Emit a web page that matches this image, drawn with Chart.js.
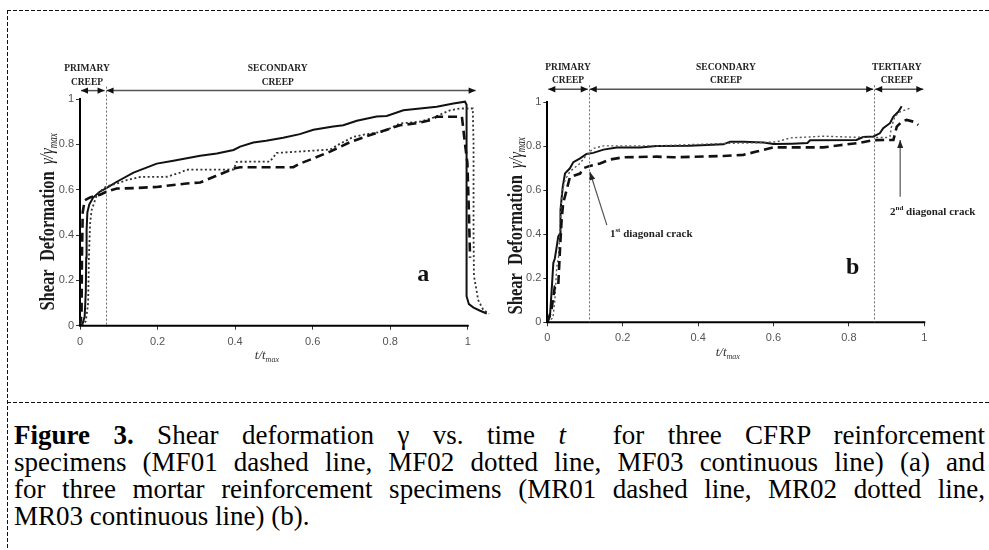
<!DOCTYPE html>
<html>
<head>
<meta charset="utf-8">
<script src="https://cdn.jsdelivr.net/npm/chart.js@4.4.0/dist/chart.umd.min.js"></script>
<style>
html,body{margin:0;padding:0;background:#fff;}
body{width:989px;height:550px;position:relative;overflow:hidden;font-family:"Liberation Serif","Times New Roman",serif;}
.abs{position:absolute;}
#frameTop{left:7px;top:10px;width:982px;height:1px;background:repeating-linear-gradient(90deg,#111 0 4px,transparent 4px 6px);}
#frameLeft{left:7px;top:10px;width:1px;height:540px;background:repeating-linear-gradient(180deg,#111 0 4px,transparent 4px 6px);}
#sep{left:7px;top:402px;width:982px;height:1px;background:repeating-linear-gradient(90deg,#111 0 4px,transparent 4px 6px);}
#cvA{left:0;top:0;}
#cvB{left:494px;top:0;}
#caption{left:14px;top:422px;width:971px;font-size:27px;line-height:27px;color:#000;}
#caption .j{text-align:justify;text-align-last:justify;}
#caption .l{text-align:left;}
</style>
</head>
<body>
<div id="frameTop" class="abs"></div>
<div id="frameLeft" class="abs"></div>
<div id="sep" class="abs"></div>
<canvas id="cvA" class="abs" width="494" height="400" style="width:494px;height:400px"></canvas>
<canvas id="cvB" class="abs" width="495" height="400" style="width:495px;height:400px"></canvas>
<div id="caption" class="abs">
  <div class="j"><b>Figure 3.</b> Shear deformation γ vs. time <i>t</i> &nbsp;for three CFRP reinforcement</div>
  <div class="j">specimens (MF01 dashed line, MF02 dotted line, MF03 continuous line) (a) and</div>
  <div class="j">for three mortar reinforcement specimens (MR01 dashed line, MR02 dotted line,</div>
  <div class="l">MR03 continuous line) (b).</div>
</div>
<script>
// ---------- tick values / labels ----------
const xTickValues = [0, 0.2, 0.4, 0.6, 0.8, 1];
const xTickLabels = ['0', '0.2', '0.4', '0.6', '0.8', '1'];
const yTickValues = [0, 0.2, 0.4, 0.6, 0.8, 1];
const yTickLabels = ['0', '0.2', '0.4', '0.6', '0.8', '1'];

// ---------- (a) CFRP specimens : [t/tmax, γ/γmax] ----------
const MF01 = [[0,0],[0.004,0.05],[0.005,0.3],[0.007,0.5],[0.012,0.553],[0.026,0.566],[0.052,0.578],[0.069,0.592],[0.095,0.605],[0.138,0.607],[0.198,0.612],[0.275,0.627],[0.31,0.632],[0.35,0.66],[0.396,0.693],[0.413,0.699],[0.55,0.699],[0.567,0.715],[0.602,0.738],[0.645,0.768],[0.697,0.81],[0.739,0.836],[0.774,0.855],[0.825,0.884],[0.868,0.893],[0.903,0.906],[0.92,0.922],[0.985,0.922],[0.993,0.8],[0.999,0.72],[1.003,0.5],[1.006,0.3]];
const MF02 = [[0.004,0],[0.015,0.02],[0.021,0.1],[0.023,0.3],[0.026,0.45],[0.03,0.51],[0.043,0.575],[0.06,0.605],[0.069,0.615],[0.095,0.627],[0.12,0.642],[0.155,0.656],[0.224,0.657],[0.258,0.675],[0.275,0.688],[0.396,0.689],[0.404,0.723],[0.49,0.724],[0.507,0.762],[0.645,0.777],[0.671,0.803],[0.705,0.833],[0.739,0.845],[0.782,0.856],[0.825,0.892],[0.877,0.9],[0.911,0.918],[0.954,0.95],[0.98,0.958],[1.013,0.958],[1.015,0.8],[1.015,0.4],[1.016,0.22],[1.027,0.113],[1.04,0.07],[1.055,0.053]];
const MF03 = [[0,0],[0.006,0.005],[0.012,0.04],[0.015,0.15],[0.016,0.3],[0.017,0.42],[0.019,0.5],[0.024,0.535],[0.034,0.565],[0.05,0.59],[0.069,0.608],[0.095,0.635],[0.138,0.675],[0.198,0.715],[0.241,0.728],[0.31,0.75],[0.353,0.76],[0.396,0.775],[0.413,0.79],[0.447,0.808],[0.48,0.816],[0.524,0.829],[0.567,0.845],[0.602,0.864],[0.653,0.879],[0.679,0.884],[0.714,0.904],[0.765,0.923],[0.791,0.925],[0.834,0.95],[0.877,0.958],[0.92,0.966],[0.963,0.98],[0.993,0.988],[0.997,0.975],[0.997,0.5],[0.997,0.13],[1.003,0.095],[1.015,0.08],[1.032,0.066],[1.049,0.054]];

// ---------- (b) mortar specimens : [t/tmax, γ/γmax] ----------
const MR01 = [[0,0],[0.011,0.056],[0.02,0.162],[0.029,0.165],[0.034,0.344],[0.038,0.465],[0.042,0.54],[0.051,0.6],[0.06,0.66],[0.087,0.676],[0.095,0.7],[0.113,0.711],[0.14,0.722],[0.166,0.74],[0.202,0.75],[0.29,0.753],[0.334,0.75],[0.467,0.756],[0.52,0.761],[0.555,0.776],[0.6,0.795],[0.732,0.795],[0.776,0.805],[0.83,0.816],[0.865,0.828],[0.918,0.829],[0.927,0.889],[0.94,0.912],[0.953,0.92],[0.971,0.912],[0.984,0.897]];
const MR02 = [[0,0],[0.015,0.02],[0.02,0.1],[0.025,0.25],[0.03,0.3],[0.034,0.435],[0.038,0.586],[0.047,0.647],[0.06,0.685],[0.087,0.723],[0.104,0.76],[0.122,0.79],[0.149,0.802],[0.29,0.802],[0.467,0.813],[0.555,0.816],[0.608,0.82],[0.644,0.838],[0.732,0.846],[0.82,0.841],[0.9,0.84],[0.909,0.845],[0.913,0.889],[0.922,0.935],[0.936,0.957],[0.962,0.973]];
const MR03 = [[0,0],[0.007,0.026],[0.011,0.13],[0.016,0.27],[0.02,0.29],[0.025,0.344],[0.029,0.39],[0.034,0.405],[0.035,0.51],[0.041,0.617],[0.047,0.677],[0.06,0.7],[0.069,0.728],[0.087,0.745],[0.104,0.765],[0.122,0.77],[0.149,0.785],[0.184,0.795],[0.246,0.795],[0.29,0.801],[0.378,0.802],[0.467,0.809],[0.485,0.821],[0.52,0.821],[0.573,0.817],[0.6,0.81],[0.65,0.812],[0.69,0.815],[0.697,0.827],[0.82,0.829],[0.838,0.842],[0.865,0.845],[0.882,0.859],[0.891,0.882],[0.909,0.905],[0.918,0.935],[0.931,0.957],[0.94,0.982]];

// ---------- creep phases ----------
const phasesA = [0, 0.066, 1.023];
const phaseLabelsA = [['PRIMARY','CREEP'], ['SECONDARY','CREEP']];
const phaseLabelXA = [0.018, 0.51];
const phasesB = [0, 0.11, 0.867, 1.0];
const phaseLabelsB = [['PRIMARY','CREEP'], ['SECONDARY','CREEP'], ['TERTIARY','CREEP']];
const phaseLabelXB = [0.055, 0.474, 0.927];

const SERIF = '"Liberation Serif","Times New Roman",serif';

function head(ctx, tx, ty, fx, fy, len, half) {
  const a = Math.atan2(ty - fy, tx - fx);
  const c = Math.cos(a), s = Math.sin(a);
  ctx.beginPath();
  ctx.moveTo(tx, ty);
  ctx.lineTo(tx - len*c + half*s, ty - len*s - half*c);
  ctx.lineTo(tx - len*c - half*s, ty - len*s + half*c);
  ctx.closePath();
  ctx.fill();
}

function supText(ctx, x, y, base, sup, rest, size) {
  ctx.textAlign = 'left'; ctx.textBaseline = 'alphabetic';
  ctx.font = 'bold ' + size + 'px ' + SERIF;
  ctx.fillText(base, x, y); x += ctx.measureText(base).width;
  ctx.font = 'bold ' + Math.round(size*0.62) + 'px ' + SERIF;
  ctx.fillText(sup, x, y - size*0.38); x += ctx.measureText(sup).width;
  ctx.font = 'bold ' + size + 'px ' + SERIF;
  ctx.fillText(rest, x, y);
}

const decorPlugin = {
  id: 'decor',
  afterDraw(chart, args, o) {
    const ctx = chart.ctx, a = chart.chartArea, xs = chart.scales.x, ys = chart.scales.y;
    ctx.save();
    // x axis line (0..1)
    ctx.strokeStyle = '#000'; ctx.lineWidth = 2;
    ctx.beginPath(); ctx.moveTo(a.left - 1, a.bottom); ctx.lineTo(xs.getPixelForValue(1) + 1, a.bottom); ctx.stroke();
    const ay = ys.getPixelForValue(o.arrowY);
    // phase dividers
    ctx.strokeStyle = '#6a6a6a'; ctx.lineWidth = 1; ctx.setLineDash([2, 2]);
    o.phases.slice(1, -1).forEach(v => {
      const px = Math.round(xs.getPixelForValue(v)) + 0.5;
      ctx.beginPath(); ctx.moveTo(px, ay - 4); ctx.lineTo(px, a.bottom); ctx.stroke();
    });
    ctx.setLineDash([]);
    // phase arrows
    ctx.strokeStyle = '#555'; ctx.fillStyle = '#111'; ctx.lineWidth = 1.5;
    for (let i = 0; i < o.phases.length - 1; i++) {
      const p0 = xs.getPixelForValue(o.phases[i]) + 1, p1 = xs.getPixelForValue(o.phases[i+1]) - 1;
      ctx.beginPath(); ctx.moveTo(p0, ay); ctx.lineTo(p1, ay); ctx.stroke();
      head(ctx, p0, ay, p0 + 10, ay, 7, 3.2);
      head(ctx, p1, ay, p1 - 10, ay, 7, 3.2);
    }
    // phase labels
    ctx.fillStyle = '#222'; ctx.textAlign = 'center'; ctx.textBaseline = 'middle';
    ctx.font = 'bold 9.5px ' + SERIF;
    o.labels.forEach((lb, i) => {
      const px = xs.getPixelForValue(o.labelX[i]);
      ctx.fillText(lb[0], px, ay - 22);
      ctx.fillText(lb[1], px, ay - 8.5);
    });
    // y title
    ctx.save();
    ctx.translate(a.left + o.yTitle.dx, (a.top + a.bottom) / 2 + o.yTitle.dy);
    ctx.rotate(-Math.PI / 2);
    ctx.scale(1, 1.3);
    ctx.fillStyle = '#1a1a1a'; ctx.textAlign = 'left'; ctx.textBaseline = 'middle';
    const f1 = 'bold 16.5px ' + SERIF, f2 = 'italic 15px ' + SERIF, f3 = 'italic 9px ' + SERIF;
    ctx.font = f1; const w1 = ctx.measureText('Shear  Deformation').width;
    ctx.font = f2; const w2 = ctx.measureText('γ/γ').width;
    ctx.font = f3; const w3 = ctx.measureText('max').width;
    const gap = 7; let cx = -(w1 + gap + w2 + w3) / 2;
    ctx.font = f1; ctx.fillText('Shear  Deformation', cx, 0); cx += w1 + gap;
    ctx.font = f2; ctx.fillText('γ/γ', cx, 0); cx += w2;
    ctx.font = f3; ctx.fillText('max', cx, 4);
    ctx.restore();
    // x title
    ctx.fillStyle = '#333'; ctx.textAlign = 'left'; ctx.textBaseline = 'middle';
    const g1 = 'italic 13px ' + SERIF, g2 = 'italic 8px ' + SERIF;
    ctx.font = g1; const v1 = ctx.measureText('t/t').width;
    ctx.font = g2; const v2 = ctx.measureText('max').width;
    let tx = xs.getPixelForValue(0.5) + o.xTitle.dx - (v1 + v2) / 2, ty = a.bottom + o.xTitle.dy;
    ctx.font = g1; ctx.fillText('t/t', tx, ty);
    ctx.font = g2; ctx.fillText('max', tx + v1, ty + 4);
    // panel letter
    ctx.fillStyle = '#111'; ctx.textAlign = 'center'; ctx.textBaseline = 'middle';
    ctx.font = 'bold 24px ' + SERIF;
    ctx.fillText(o.letter.text, xs.getPixelForValue(o.letter.x), ys.getPixelForValue(o.letter.y));
    // crack annotations
    (o.cracks || []).forEach(c => {
      const fx = xs.getPixelForValue(c.from[0]), fy = ys.getPixelForValue(c.from[1]);
      const tx2 = xs.getPixelForValue(c.to[0]), ty2 = ys.getPixelForValue(c.to[1]);
      ctx.strokeStyle = '#555'; ctx.fillStyle = '#222'; ctx.lineWidth = 1.2;
      ctx.beginPath(); ctx.moveTo(fx, fy); ctx.lineTo(tx2, ty2); ctx.stroke();
      head(ctx, tx2, ty2, fx, fy, 8, 3);
      ctx.fillStyle = '#222';
      supText(ctx, xs.getPixelForValue(c.text[0]), ys.getPixelForValue(c.text[1]), c.base, c.sup, c.rest, 11);
    });
    ctx.restore();
  }
};

function series(arr, style) {
  return Object.assign({
    data: arr.map(([x, y]) => ({x, y})),
    pointRadius: 0, tension: 0, fill: false, clip: false
  }, style);
}
const dashedStyle = {borderColor: '#111', borderWidth: 2.6, borderDash: [9, 5]};
const dottedStyle = {borderColor: '#333', borderWidth: 1.8, borderDash: [2, 2.5]};
const solidStyle  = {borderColor: '#111', borderWidth: 2};

function makeChart(id, sets, cfg) {
  return new Chart(document.getElementById(id), {
    type: 'line',
    data: {datasets: sets},
    options: {
      responsive: false, animation: false, devicePixelRatio: 1,
      layout: {padding: cfg.padding},
      plugins: {legend: {display: false}, tooltip: {enabled: false}, decor: cfg.decor},
      scales: {
        x: {
          type: 'linear', min: 0, max: cfg.xMax,
          afterFit(s) { s.height = 40; },
          afterBuildTicks(s) { s.ticks = xTickValues.map(v => ({value: v})); },
          ticks: {callback: (v, i) => xTickLabels[i], color: '#555', font: {family: 'Liberation Sans', size: 11},
                  padding: cfg.xPad, maxRotation: 0, autoSkip: false},
          grid: {drawOnChartArea: false, drawTicks: true, tickLength: 4, color: '#333'},
          border: {display: false}
        },
        y: {
          type: 'linear', min: 0, max: 1,
          afterFit(s) { s.width = cfg.yWidth; },
          afterBuildTicks(s) { s.ticks = yTickValues.map(v => ({value: v})); },
          ticks: {callback: (v, i) => yTickLabels[i], color: '#555', font: {family: 'Liberation Sans', size: 11},
                  padding: 2, autoSkip: false},
          grid: {drawOnChartArea: false, drawTicks: true, tickLength: 4, color: '#333'},
          border: {color: '#000', width: 2}
        }
      }
    },
    plugins: [decorPlugin]
  });
}

// chart (a): x scale runs slightly past 1 so the unloading branches stay visible
makeChart('cvA', [series(MF01, dashedStyle), series(MF02, dottedStyle), series(MF03, solidStyle)], {
  padding: {left: 30, top: 99, right: 3, bottom: 34.3},
  xMax: 1.06, yWidth: 50, xPad: 6,
  decor: {
    arrowY: 1.037, phases: phasesA, labels: phaseLabelsA, labelX: phaseLabelXA,
    yTitle: {dx: -31.7, dy: 9.6}, xTitle: {dx: -7, dy: 30.3},
    letter: {text: 'a', x: 0.885, y: 0.224}
  }
});

makeChart('cvB', [series(MR01, dashedStyle), series(MR02, Object.assign({}, dottedStyle, {borderColor: '#555', borderWidth: 1.4})), series(MR03, solidStyle)], {
  padding: {left: 13.3, top: 102.3, right: 64.7, bottom: 37.7},
  xMax: 1, yWidth: 40, xPad: 5,
  decor: {
    arrowY: 1.059, phases: phasesB, labels: phaseLabelsB, labelX: phaseLabelXB,
    yTitle: {dx: -30.6, dy: 13.5}, xTitle: {dx: -8, dy: 30.7},
    letter: {text: 'b', x: 0.81, y: 0.247},
    cracks: [
      {from: [0.158, 0.442], to: [0.113, 0.683], text: [0.166, 0.39], base: '1', sup: 'st', rest: ' diagonal crack'},
      {from: [0.936, 0.571], to: [0.936, 0.829], text: [0.909, 0.49], base: '2', sup: 'nd', rest: ' diagonal crack'}
    ]
  }
});
</script>
</body>
</html>
